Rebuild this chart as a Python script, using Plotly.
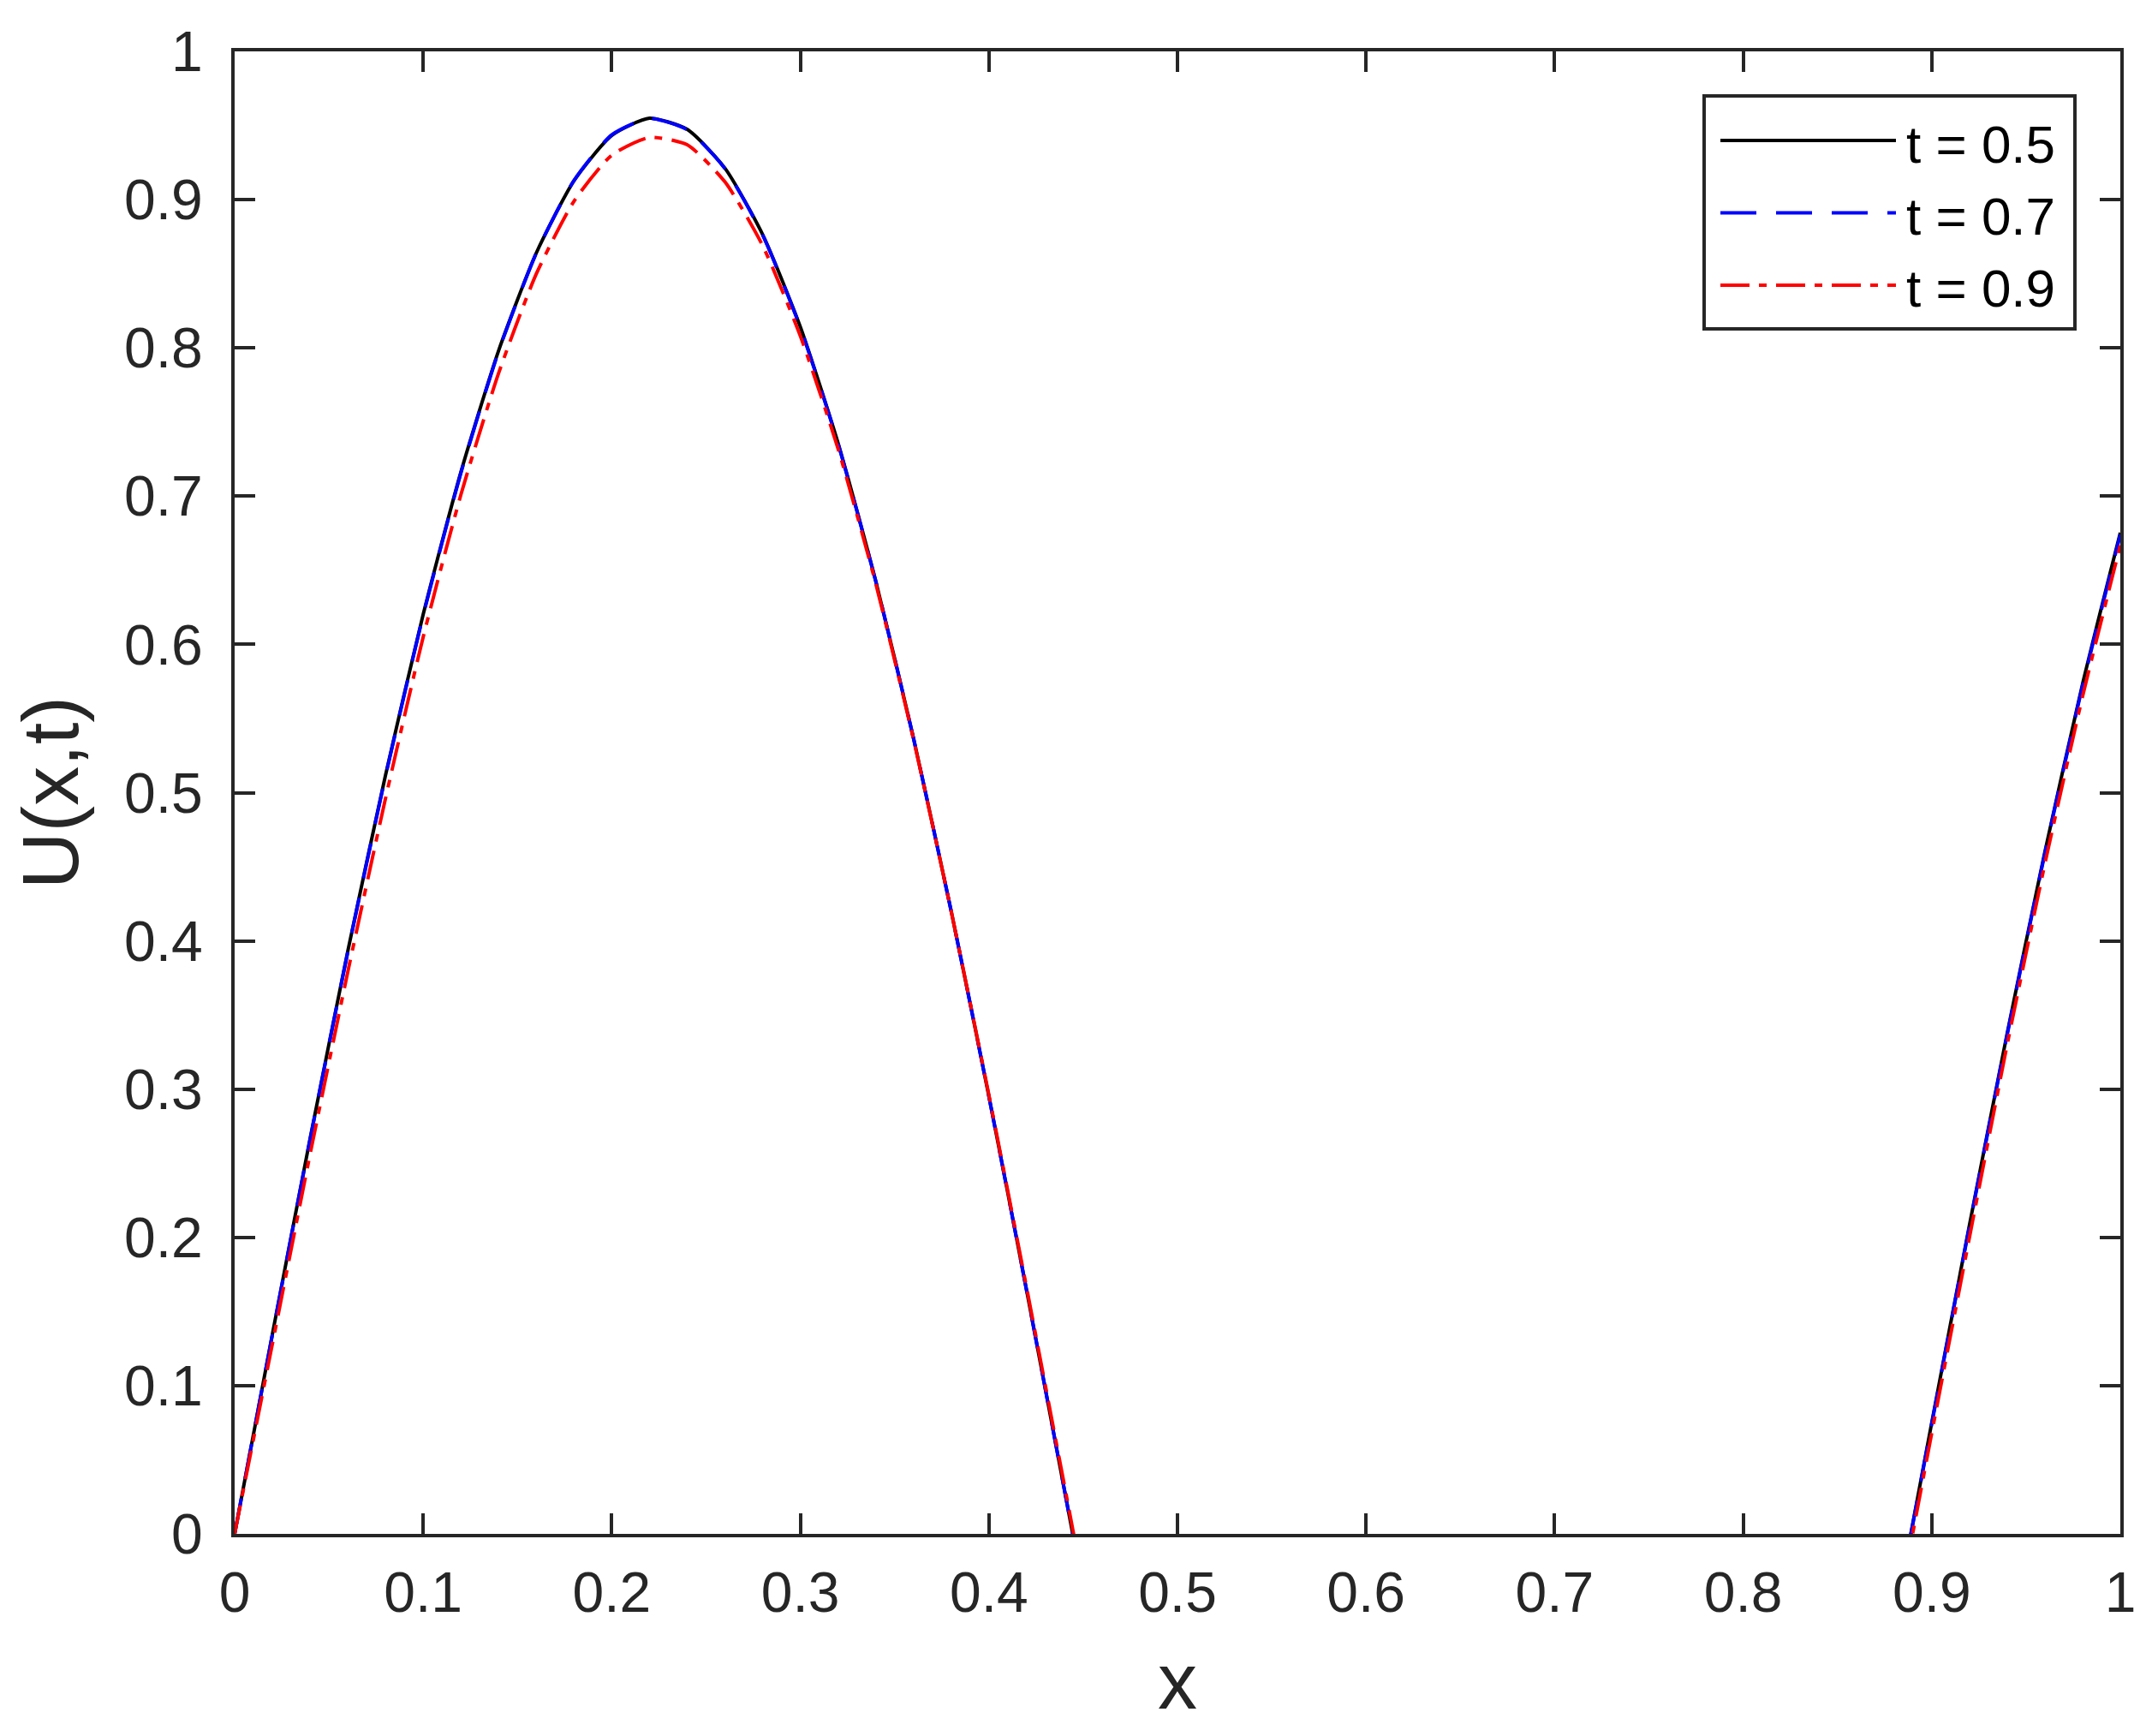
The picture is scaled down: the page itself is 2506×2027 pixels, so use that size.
import plotly.graph_objects as go

# sample points along x
x = [0.00, 0.02, 0.04, 0.06, 0.08, 0.10, 0.12, 0.14, 0.16, 0.18,
     0.20, 0.22, 0.24, 0.26, 0.28, 0.30, 0.32, 0.34, 0.36, 0.38,
     0.40, 0.42, 0.44, 0.46, 0.48, 0.50, 0.52, 0.54, 0.56, 0.58,
     0.60, 0.62, 0.64, 0.66, 0.68, 0.70, 0.72, 0.74, 0.76, 0.78,
     0.80, 0.82, 0.84, 0.86, 0.88, 0.90, 0.92, 0.94, 0.96, 0.98, 1.00]

# U(x,t) (negative part is hidden below the axis)
u_05 = [0.0000, 0.1346, 0.2665, 0.3930, 0.5117, 0.6203, 0.7163, 0.7982, 0.8641, 0.9128,
        0.9433, 0.9549, 0.9474, 0.9212, 0.8765, 0.8142, 0.7358, 0.6427, 0.5368, 0.4201,
        0.2951, 0.1642, 0.0300, -0.1049, -0.2375, -0.3655, -0.4828, -0.5932, -0.6962, -0.7813,
        -0.8509, -0.9035, -0.9381, -0.9539, -0.9508, -0.9286, -0.8880, -0.8295, -0.7546, -0.6646,
        -0.5613, -0.4468, -0.3235, -0.1937, -0.0600, 0.0750, 0.2083, 0.3376, 0.4601, 0.5734, 0.6753]

u_07 = [0.0000, 0.1343, 0.2660, 0.3924, 0.5110, 0.6196, 0.7157, 0.7978, 0.8640, 0.9130,
        0.9437, 0.9548, 0.9472, 0.9209, 0.8762, 0.8138, 0.7355, 0.6425, 0.5367, 0.4200,
        0.2950, 0.1641, 0.0299, -0.1050, -0.2372, -0.3650, -0.4820, -0.5925, -0.6955, -0.7805,
        -0.8500, -0.9025, -0.9372, -0.9530, -0.9500, -0.9280, -0.8873, -0.8288, -0.7540, -0.6640,
        -0.5607, -0.4462, -0.3230, -0.1932, -0.0605, 0.0742, 0.2075, 0.3366, 0.4590, 0.5722, 0.6740]

u_09 = [0.0000, 0.1280, 0.2560, 0.3790, 0.4960, 0.6050, 0.7010, 0.7830, 0.8500, 0.8990,
        0.9300, 0.9420, 0.9370, 0.9120, 0.8690, 0.8080, 0.7320, 0.6410, 0.5360, 0.4200,
        0.2960, 0.1660, 0.0330, -0.1010, -0.2320, -0.3600, -0.4800, -0.5890, -0.6880, -0.7710,
        -0.8390, -0.8900, -0.9230, -0.9380, -0.9350, -0.9130, -0.8730, -0.8160, -0.7430, -0.6560,
        -0.5550, -0.4430, -0.3220, -0.1950, -0.0660, 0.0680, 0.2000, 0.3300, 0.4520, 0.5650, 0.6670]

names = ['t = 0.5', 't = 0.7', 't = 0.9']
colors = ['black', 'blue', 'red']
dashes = ['solid', '42px,23px', '34px,11px,9px,11px']

x_ticks = [0, 0.1, 0.2, 0.3, 0.4, 0.5, 0.6, 0.7, 0.8, 0.9, 1]
y_ticks = [0, 0.1, 0.2, 0.3, 0.4, 0.5, 0.6, 0.7, 0.8, 0.9, 1]

axis_col = '#262626'
W, H = 2506, 2027
L, R, T, B = 266, 38, 52, 244

fig = go.Figure()
for yy, nm, c, d in zip([u_05, u_07, u_09], names, colors, dashes):
    fig.add_trace(go.Scatter(x=x, y=yy, name=nm, mode='lines',
                             line=dict(color=c, width=4, dash=d,
                                       shape='spline', smoothing=0.6)))

axis_common = dict(showgrid=False, zeroline=False, showline=True, linecolor=axis_col,
                   linewidth=4, mirror='ticks', ticks='inside', ticklen=24, tickwidth=4,
                   tickcolor=axis_col, tickfont=dict(size=66, color=axis_col))

fig.update_xaxes(range=[0, 1], tickvals=x_ticks, ticklabelstandoff=8,
                 title=dict(text='x', font=dict(size=92, color=axis_col), standoff=36),
                 **axis_common)
fig.update_yaxes(range=[0, 1], tickvals=y_ticks, ticklabelstandoff=20,
                 title=dict(text='U(x,t)', font=dict(size=92, color=axis_col), standoff=24),
                 **axis_common)


# legend drawn by hand (MATLAB style long line keys), pixel -> paper coords
def px(v):
    return (v - L) / (W - L - R)


def py(v):
    return (H - B - v) / (H - T - B)


fig.add_shape(type='rect', xref='paper', yref='paper',
              x0=px(1982), x1=px(2415), y0=py(376), y1=py(104),
              line=dict(color=axis_col, width=4), fillcolor='white', layer='above')
for i, (nm, c, d) in enumerate(zip(names, colors, dashes)):
    row = 156 + i * 84.5
    fig.add_shape(type='line', xref='paper', yref='paper',
                  x0=px(2001), x1=px(2206), y0=py(row), y1=py(row),
                  line=dict(color=c, width=4, dash=d), layer='above')
    fig.add_annotation(xref='paper', yref='paper', x=px(2216), y=py(row + 4),
                       text=nm, showarrow=False, xanchor='left', yanchor='middle',
                       font=dict(size=62, color='black'))

fig.update_layout(
    width=W, height=H,
    margin=dict(l=L, r=R, t=T, b=B),
    plot_bgcolor='white', paper_bgcolor='white',
    font=dict(family='Liberation Sans, Arial, sans-serif', color='black'),
    showlegend=False,
)

fig.write_html("out.html")
